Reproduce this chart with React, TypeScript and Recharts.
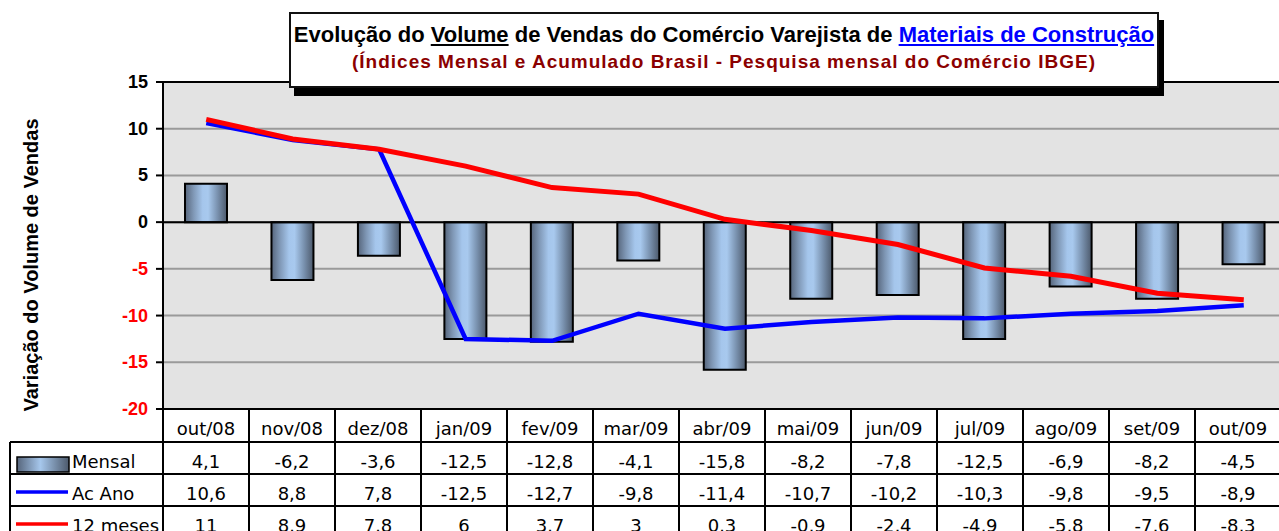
import React from 'react';
import {
  Bar,
  CartesianGrid,
  ComposedChart,
  Line,
  ReferenceLine,
  XAxis,
  YAxis,
} from 'recharts';

const months = [
  'out/08', 'nov/08', 'dez/08', 'jan/09', 'fev/09', 'mar/09', 'abr/09',
  'mai/09', 'jun/09', 'jul/09', 'ago/09', 'set/09', 'out/09',
];
const mensal = [4.1, -6.2, -3.6, -12.5, -12.8, -4.1, -15.8, -8.2, -7.8, -12.5, -6.9, -8.2, -4.5];
const acAno = [10.6, 8.8, 7.8, -12.5, -12.7, -9.8, -11.4, -10.7, -10.2, -10.3, -9.8, -9.5, -8.9];
const dozeMeses = [11, 8.9, 7.8, 6, 3.7, 3, 0.3, -0.9, -2.4, -4.9, -5.8, -7.6, -8.3];
const yTicks = [-20, -15, -10, -5, 0, 5, 10, 15];

const data = months.map((month, i) => ({
  month,
  mensal: mensal[i],
  acAno: acAno[i],
  dozeMeses: dozeMeses[i],
}));

const fmt = (v: number) => String(v).replace('.', ',');

const ARIAL = '"Liberation Sans", Arial, sans-serif';
const TABLE_FONT = '"DejaVu Sans", Verdana, sans-serif';

const PLOT_LEFT = 163;
const PLOT_TOP = 82;
const PLOT_BOTTOM = 409;
const COL_W = 86;
const TABLE_LEFT = 10;
const ROWS = [409, 442, 474, 506, 538];

function YTick(props: any) {
  const { x, y, payload } = props;
  const v = payload.value as number;
  return (
    <text
      x={x}
      y={y}
      dy={6}
      textAnchor="end"
      fill={v < 0 ? '#ff0000' : '#000'}
      fontFamily={ARIAL}
      fontWeight="bold"
      fontSize={18}
    >
      {v}
    </text>
  );
}

function DataTable() {
  const right = PLOT_LEFT + COL_W * months.length;
  const rows = [
    { label: 'Mensal', values: mensal },
    { label: 'Ac Ano', values: acAno },
    { label: '12 meses', values: dozeMeses },
  ];
  return (
    <svg
      width={1279}
      height={531}
      style={{ position: 'absolute', left: 0, top: 0, pointerEvents: 'none' }}
    >
      <defs>
        <linearGradient id="legendGrad" x1="0" y1="0" x2="1" y2="0">
          <stop offset="0%" stopColor="#56657b" />
          <stop offset="45%" stopColor="#a6c7ec" />
          <stop offset="100%" stopColor="#4c596b" />
        </linearGradient>
      </defs>
      <text
        transform="translate(38,265) rotate(-90)"
        textAnchor="middle"
        fontFamily={ARIAL}
        fontWeight="bold"
        fontSize={20}
        fill="#000"
      >
        Variação do Volume de Vendas
      </text>

      {/* table grid */}
      <line x1={PLOT_LEFT} x2={right} y1={ROWS[0]} y2={ROWS[0]} stroke="#000" strokeWidth={2} />
      {ROWS.slice(1, 4).map((y) => (
        <line key={y} x1={TABLE_LEFT} x2={right} y1={y} y2={y} stroke="#000" strokeWidth={2} />
      ))}
      <line x1={TABLE_LEFT} x2={TABLE_LEFT} y1={ROWS[1]} y2={531} stroke="#000" strokeWidth={2} />
      {months.map((_, i) => (
        <line
          key={i}
          x1={PLOT_LEFT + i * COL_W}
          x2={PLOT_LEFT + i * COL_W}
          y1={ROWS[0]}
          y2={531}
          stroke="#000"
          strokeWidth={2}
        />
      ))}

      {months.map((m, i) => (
        <text
          key={m}
          x={PLOT_LEFT + i * COL_W + COL_W / 2}
          y={ROWS[0] + 26}
          textAnchor="middle"
          fontFamily={TABLE_FONT}
          fontSize={18}
          fill="#000"
        >
          {m}
        </text>
      ))}

      {rows.map((r, ri) => (
        <g key={r.label}>
          <text
            x={72}
            y={ROWS[ri + 1] + 26}
            fontFamily={TABLE_FONT}
            fontSize={18}
            fill="#000"
          >
            {r.label}
          </text>
          {r.values.map((v, i) => (
            <text
              key={i}
              x={PLOT_LEFT + i * COL_W + COL_W / 2}
              y={ROWS[ri + 1] + 26}
              textAnchor="middle"
              fontFamily={TABLE_FONT}
              fontSize={18}
              fill="#000"
            >
              {fmt(v)}
            </text>
          ))}
        </g>
      ))}

      {/* legend keys */}
      <rect x={17} y={457} width={52} height={15} fill="url(#legendGrad)" stroke="#000" strokeWidth={1.5} />
      <line x1={16} x2={68} y1={492} y2={492} stroke="#0000ff" strokeWidth={3.5} />
      <line x1={16} x2={68} y1={524} y2={524} stroke="#ff0000" strokeWidth={3.5} />
    </svg>
  );
}

function Title() {
  return (
    <div
      style={{
        position: 'absolute',
        left: 289,
        top: 12,
        width: 866,
        height: 72,
        border: '2px solid #111',
        background: '#fff',
        boxShadow: '5px 8px 0 #000',
        fontFamily: ARIAL,
        fontWeight: 'bold',
        textAlign: 'center',
      }}
    >
      <div
        style={{
          fontSize: 22,
          lineHeight: '25px',
          marginTop: 8,
          color: '#000',
          whiteSpace: 'nowrap',
        }}
      >
        Evolução do <span style={{ textDecoration: 'underline' }}>Volume</span> de Vendas do
        Comércio Varejista de{' '}
        <span style={{ color: '#0000ff', textDecoration: 'underline' }}>
          Materiais de Construção
        </span>
      </div>
      <div
        style={{
          fontSize: 19,
          lineHeight: '22px',
          marginTop: 4,
          letterSpacing: 1,
          color: '#8b0000',
          whiteSpace: 'nowrap',
        }}
      >
        (Índices Mensal e Acumulado Brasil - Pesquisa mensal do Comércio IBGE)
      </div>
    </div>
  );
}

export default function App() {
  const chartWidth = 1287;
  return (
    <div
      style={{
        position: 'absolute',
        left: 0,
        top: 0,
        width: 1279,
        height: 531,
        overflow: 'hidden',
        background: '#fff',
      }}
    >
      <ComposedChart
        width={chartWidth}
        height={531}
        data={data}
        margin={{ top: PLOT_TOP, right: 0, bottom: 531 - PLOT_BOTTOM, left: 0 }}
      >
        <defs>
          <linearGradient id="barGrad" x1="0" y1="0" x2="1" y2="0">
            <stop offset="0%" stopColor="#56657b" />
            <stop offset="20%" stopColor="#7f97b5" />
            <stop offset="42%" stopColor="#a5c6ec" />
            <stop offset="55%" stopColor="#a8c9ee" />
            <stop offset="78%" stopColor="#7890ad" />
            <stop offset="100%" stopColor="#4c596b" />
          </linearGradient>
        </defs>
        <CartesianGrid vertical={false} fill="#e3e3e3" stroke="#9a9a9a" strokeWidth={2} />
        <XAxis dataKey="month" hide height={0} />
        <YAxis
          width={PLOT_LEFT}
          domain={[-20, 15]}
          ticks={yTicks}
          interval={0}
          tick={<YTick />}
          tickSize={7}
          tickMargin={8}
          tickLine={{ stroke: '#000', strokeWidth: 2 }}
          axisLine={{ stroke: '#000', strokeWidth: 2 }}
          allowDataOverflow
        />
        <ReferenceLine y={15} stroke="#000" strokeWidth={2} />
        <ReferenceLine y={-20} stroke="#000" strokeWidth={2} />
        <ReferenceLine y={0} stroke="#000" strokeWidth={2} />
        <Bar
          dataKey="mensal"
          barSize={42}
          fill="url(#barGrad)"
          stroke="#000"
          strokeWidth={2}
          isAnimationActive={false}
        />
        <Line
          type="linear"
          dataKey="acAno"
          stroke="#0000ff"
          strokeWidth={4.5}
          dot={false}
          activeDot={false}
          isAnimationActive={false}
        />
        <Line
          type="linear"
          dataKey="dozeMeses"
          stroke="#ff0000"
          strokeWidth={5}
          dot={false}
          activeDot={false}
          isAnimationActive={false}
        />
      </ComposedChart>
      <DataTable />
      <Title />
    </div>
  );
}
